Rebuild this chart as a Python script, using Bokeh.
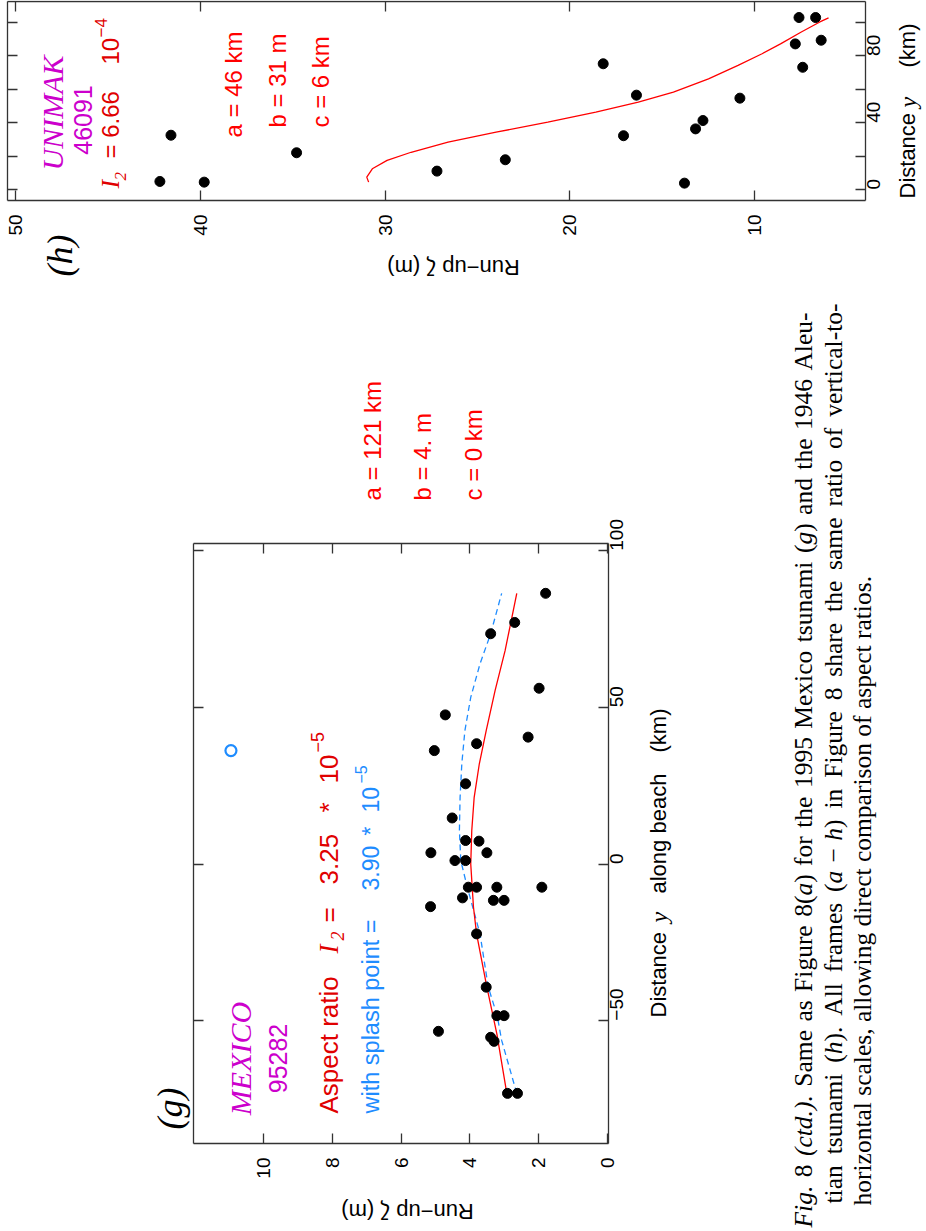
import math
from bokeh.plotting import figure
from bokeh.models import Range1d, FixedTicker, Label, LinearAxis
from bokeh.embed import file_html
from bokeh.resources import INLINE

# ---------------- data: panel (h)  UNIMAK 46091 ----------------
h_dist = [4.8, 32.5, 4.4, 22.0, 11.0, 17.8, 75.3, 56.5, 32.2, 3.8, 36.3, 41.3, 54.7, 87.2, 103.0, 103.0, 73.2, 89.4]
h_runup = [42.2, 41.6, 39.8, 34.8, 27.2, 23.5, 18.2, 16.4, 17.1, 13.8, 13.2, 12.8, 10.8, 7.8, 7.6, 6.7, 7.4, 6.4]
h_fit_dist = [4.4, 7.4, 12.4, 17.4, 22.3, 28.3, 34.3, 40.3, 46.3, 52.3, 58.3, 66.3, 74.3, 81.3, 87.2, 94.2, 100.2, 102.8]
h_fit_runup = [30.9, 31.0, 30.7, 29.9, 28.6, 26.6, 24.0, 21.2, 18.6, 16.3, 14.4, 12.5, 10.9, 9.6, 8.6, 7.5, 6.5, 6.0]
h_runup_ticks = [10, 20, 30, 40, 50]
h_dist_ticks = [0, 40, 80]
h_dist_minor = [20, 60, 100]

# ---------------- data: panel (g)  MEXICO 95282 ----------------
g_dist = [86.4, 77.1, 73.5, 56.1, 47.6, 38.4, 40.5, 36.2, 25.6, 14.7, 7.5, 7.3, 3.6, 3.6, 1.1, 1.1,
          -7.4, -7.4, -7.4, -7.4, -10.8, -11.6, -11.6, -13.6, -22.3, -39.3, -48.4, -48.4, -53.4,
          -55.3, -56.6, -73.2, -73.2]
g_runup = [1.79, 2.69, 3.39, 1.98, 4.71, 3.80, 2.30, 5.03, 4.12, 4.51, 4.12, 3.73, 5.13, 3.50, 4.43, 4.12,
           4.04, 3.80, 3.21, 1.90, 4.21, 3.31, 3.00, 5.14, 3.80, 3.52, 3.21, 3.00, 4.91,
           3.39, 3.29, 2.90, 2.61]
g_splash_dist = [36.2]
g_splash_runup = [10.95]
g_fit_dist = [-73.2, -54.2, -39.3, -22.3, -13.8, 0.0, 10.7, 21.3, 32.0, 42.6, 55.4, 68.1, 86.4]
g_fit_runup = [2.92, 3.21, 3.50, 3.80, 3.89, 3.97, 3.94, 3.87, 3.72, 3.52, 3.26, 2.97, 2.63]
g_sfit_dist = [-73.2, -56.3, -48.4, -39.3, -22.3, -7.4, 1.1, 10.7, 21.3, 32.0, 42.6, 53.2, 63.9, 73.5, 86.4]
g_sfit_runup = [2.63, 3.07, 3.20, 3.46, 3.70, 4.07, 4.26, 4.30, 4.28, 4.23, 4.14, 3.97, 3.70, 3.39, 3.07]
g_runup_ticks = [0, 2, 4, 6, 8, 10]
g_dist_ticks = [-50, 0, 50, 100]

# ---------------- caption ----------------
cap_line1 = [("Fig.", 1, " "), ("8", 0, " "), ("(ctd.).", 1, " "), ("Same", 0, " "), ("as", 0, " "),
             ("Figure", 0, " "), ("8(", 0, ""), ("a", 1, ""), (")", 0, " "), ("for", 0, " "),
             ("the", 0, " "), ("1995", 0, " "), ("Mexico", 0, " "), ("tsunami", 0, " "),
             ("(", 0, ""), ("g", 1, ""), (")", 0, " "), ("and", 0, " "), ("the", 0, " "),
             ("1946", 0, " "), ("Aleu-", 0, "")]
cap_line2 = [("tian", 0, " "), ("tsunami", 0, " "), ("(", 0, ""), ("h", 1, ""), (").", 0, " "),
             ("All", 0, " "), ("frames", 0, " "), ("(", 0, ""), ("a \u2212 h", 1, ""), (")", 0, " "),
             ("in", 0, " "), ("Figure", 0, " "), ("8", 0, " "), ("share", 0, " "), ("the", 0, " "),
             ("same", 0, " "), ("ratio", 0, " "), ("of", 0, " "), ("vertical-to-", 0, "")]
cap_line3 = [("horizontal scales, allowing direct comparison of aspect ratios.", 0, "")]

SANS = "Liberation Sans"
SERIF = "Liberation Serif"
FRAME = "#333333"
MAG = "#cc00cc"
RED = "#ff0000"
DRED = "#e00000"
BLUE = "#1e8cff"
UP = math.pi / 2
W, H = 926, 1231

# Times (Liberation Serif) advance widths per 1000 em, for laying out the justified caption
_ROMAN = dict(zip("abcdefghijklmnopqrstuvwxyz",
                  [444, 500, 444, 500, 444, 333, 500, 500, 278, 278, 500, 278, 778, 500, 500, 500, 500,
                   333, 389, 278, 500, 500, 722, 500, 500, 444]))
_ROMAN.update({" ": 250, "(": 333, ")": 333, ".": 250, ",": 250, "-": 333, "\u2212": 564,
               "A": 722, "F": 556, "M": 889, "S": 556})
_ROMAN.update({d: 500 for d in "0123456789"})
_ITAL = dict(_ROMAN)
_ITAL.update({"F": 611, "a": 500, " ": 250, "\u2212": 675})


def tw(text, italic, size):
    tab = _ITAL if italic else _ROMAN
    return sum(tab.get(c, 500) for c in text) * size / 1000.0


def lin(p0, p1, v0, v1):
    k = (v1 - v0) / (p1 - p0)
    return lambda q: v0 + (q - p0) * k


# page-pixel -> data converters for the two panels (frame edges in page pixels)
gx = lin(193, 608, 12.04, -0.04)
gy = lin(543, 1143, 102.3, -89.2)
hx = lin(7, 865, 50.45, 4.0)
hy = lin(1, 200, 112.6, -6.6)

p = figure(width=W, height=H, x_range=Range1d(gx(0), gx(W)), y_range=Range1d(gy(H), gy(0)),
           output_backend="svg", toolbar_location=None, x_axis_location=None, y_axis_location=None,
           min_border_left=0, min_border_right=0, min_border_top=0, min_border_bottom=0)
p.extra_x_ranges = {"h": Range1d(hx(0), hx(W))}
p.extra_y_ranges = {"h": Range1d(hy(H), hy(0))}
p.xgrid.visible = False
p.ygrid.visible = False
p.outline_line_color = None
p.background_fill_color = "white"
p.border_fill_color = "white"


def add_axis(side, ticks, fixed, bounds, minor=None, labels=False, standoff=14, rn="default"):
    ax = LinearAxis(fixed_location=fixed, bounds=bounds, x_range_name=rn, y_range_name=rn)
    ax.ticker = FixedTicker(ticks=ticks, minor_ticks=minor or [])
    ax.major_tick_in = 10
    ax.major_tick_out = 0
    ax.minor_tick_in = 10 if minor else 0
    ax.minor_tick_out = 0
    for a in ("axis", "major_tick", "minor_tick"):
        setattr(ax, a + "_line_color", FRAME)
        setattr(ax, a + "_line_width", 1.3)
    ax.major_label_orientation = UP
    ax.major_label_text_font = SANS
    ax.major_label_text_font_size = "19px"
    ax.major_label_text_color = "black" if labels else None
    ax.major_label_standoff = standoff
    p.add_layout(ax, side)


def lab(X, Y, text, size, color="black", font=SANS, style="normal", angle=UP,
        align="left", baseline="alphabetic", rn="default"):
    p.add_layout(Label(x=X, y=Y, text=text, angle=angle, text_font=font,
                       text_font_size=f"{size}px", text_font_style=style, text_color=color,
                       text_align=align, text_baseline=baseline,
                       x_range_name=rn, y_range_name=rn))


# =============== panel (h) ===============
hb = (4.0, 50.45)
hd = (-6.6, 112.6)
add_axis("below", h_runup_ticks, hd[0], hb, labels=True, standoff=14, rn="h")
add_axis("above", h_runup_ticks, hd[1], hb, rn="h")
add_axis("right", h_dist_ticks, hb[0], hd, minor=h_dist_minor, labels=True, standoff=8, rn="h")
add_axis("left", h_dist_ticks, hb[1], hd, minor=h_dist_minor, rn="h")

p.line(h_fit_runup, h_fit_dist, line_color=RED, line_width=1.3, x_range_name="h", y_range_name="h")
p.scatter(h_runup, h_dist, size=10, color="black", x_range_name="h", y_range_name="h")

lab(hx(52), hy(170), "UNIMAK", 30, MAG, SERIF, "italic", rn="h")
lab(hx(82), hy(119.5), "46091", 25, MAG, align="center", rn="h")
lab(hx(110), hy(188), "I", 26, DRED, SERIF, "italic", rn="h")
lab(hx(120), hy(180), "2", 17, DRED, SERIF, "italic", rn="h")
lab(hx(110), hy(158), "= 6.66", 24, DRED, rn="h")
lab(hx(110), hy(64), "10", 24, DRED, rn="h")
lab(hx(100), hy(37), "\u22124", 17, DRED, rn="h")
lab(hx(233), hy(137), "a = 46 km", 24, RED, rn="h")
lab(hx(277), hy(127), "b = 31 m", 24, RED, rn="h")
lab(hx(320), hy(127), "c = 6 km", 24, RED, rn="h")
lab(hx(59), hy(255), "(h)", 36, "black", SERIF, "italic", align="center", baseline="middle", rn="h")
lab(hx(450), hy(267), "Run\u2212up  \u03b6 (m)", 22, angle=math.pi, align="center", baseline="middle", rn="h")
lab(hx(907), hy(198), "Distance", 22, baseline="middle", rn="h")
lab(hx(907), hy(107), "y", 24, "black", SERIF, "italic", baseline="middle", rn="h")
lab(hx(907), hy(67), "(km)", 22, baseline="middle", rn="h")

# =============== panel (g) ===============
gb = (-0.04, 12.04)
gd = (-89.2, 102.3)
add_axis("below", g_runup_ticks, gd[0], gb, labels=True, standoff=14)
add_axis("above", g_runup_ticks, gd[1], gb)
add_axis("right", g_dist_ticks, gb[0], gd, labels=True, standoff=8)
add_axis("left", g_dist_ticks, gb[1], gd)

p.line(g_sfit_runup, g_sfit_dist, line_color=BLUE, line_width=1.3, line_dash="6 4")
p.line(g_fit_runup, g_fit_dist, line_color=RED, line_width=1.3)
p.scatter(g_runup, g_dist, size=10, color="black")
p.scatter(g_splash_runup, g_splash_dist, size=11, fill_color=None, line_color=BLUE, line_width=2.2)

lab(gx(169), gy(1108), "(g)", 36, "black", SERIF, "italic", align="center", baseline="middle")
lab(gx(240), gy(1058), "MEXICO", 30, MAG, SERIF, "italic", align="center")
lab(gx(277), gy(1058), "95282", 25, MAG, align="center")
lab(gx(328), gy(1113), "Aspect ratio", 26, DRED)
lab(gx(328), gy(953), "I", 27, DRED, SERIF, "italic")
lab(gx(337), gy(940), "2", 18, DRED, SERIF, "italic")
lab(gx(328), gy(922), "=", 26, DRED)
lab(gx(328), gy(884), "3.25", 26, DRED)
lab(gx(328), gy(812), "*", 26, DRED)
lab(gx(328), gy(783), "10", 26, DRED)
lab(gx(317), gy(752), "\u22125", 18, DRED)
lab(gx(370), gy(1113), "with splash point =", 23.5, BLUE)
lab(gx(370), gy(890), "3.90", 23, BLUE)
lab(gx(370), gy(835), "*", 23, BLUE)
lab(gx(370), gy(812), "10", 23, BLUE)
lab(gx(360), gy(783), "\u22125", 16, BLUE)
lab(gx(372), gy(500), "a = 121 km", 24, RED)
lab(gx(422), gy(500), "b = 4. m", 24, RED)
lab(gx(473), gy(500), "c = 0 km", 24, RED)
lab(gx(404), gy(1211), "Run\u2212up  \u03b6 (m)", 22, angle=math.pi, align="center", baseline="middle")
lab(gx(658), gy(1017), "Distance", 22)
lab(gx(658), gy(922), "y", 24, "black", SERIF, "italic")
lab(gx(658), gy(893), "along beach", 22)
lab(gx(658), gy(752), "(km)", 22)

# =============== caption (justified lines of Times text) ===============
CAP = 25.5


def caption_line(tokens, base_px, start_py, end_py=None):
    nat = sum(tw(t, it, CAP) + tw(sp, 0, CAP) for t, it, sp in tokens)
    nsp = sum(1 for t, it, sp in tokens if sp)
    extra = 0.0
    if end_py is not None and nsp:
        extra = max(0.0, ((start_py - end_py) - nat) / nsp)
    pos = start_py
    for t, it, sp in tokens:
        lab(gx(base_px), gy(pos), t, CAP, "black", SERIF, "italic" if it else "normal")
        pos -= tw(t, it, CAP)
        if sp:
            pos -= tw(sp, 0, CAP) + extra


caption_line(cap_line1, 803, 1227, 312)
caption_line(cap_line2, 833, 1203, 303)
caption_line(cap_line3, 862, 1205)

open("out.html", "w").write(file_html(p, INLINE))
